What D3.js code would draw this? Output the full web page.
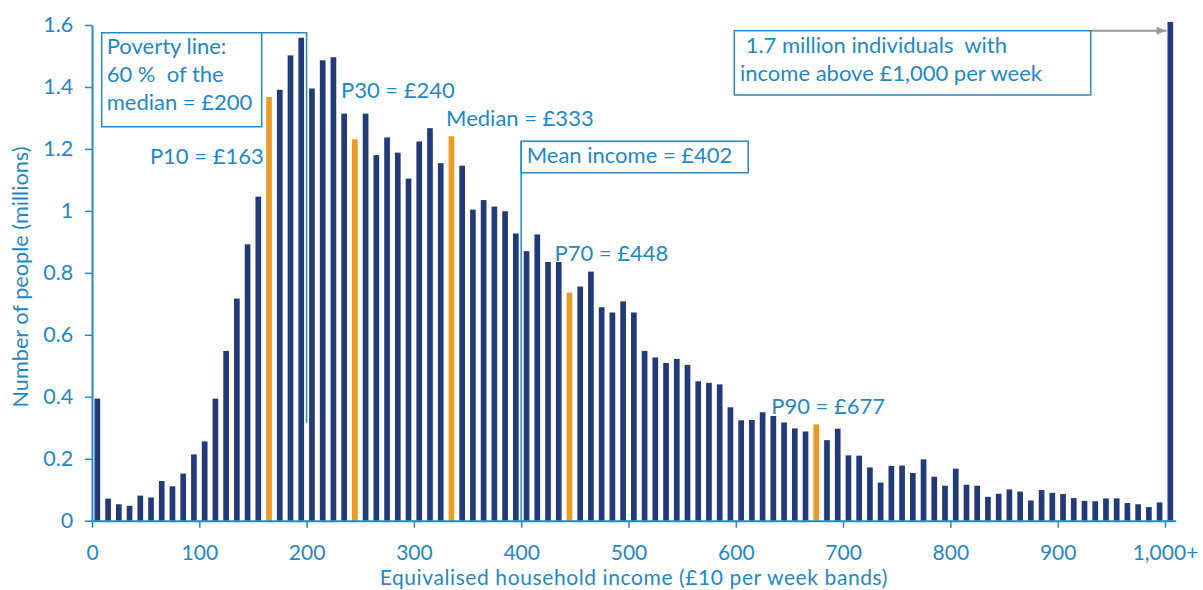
<!DOCTYPE html>
<html>
<head>
<meta charset="utf-8">
<script src="https://cdn.jsdelivr.net/npm/d3@7/dist/d3.min.js"></script>
<style>
  body { margin: 0; background: #fff; }
  svg text { font-family: Lato, "Open Sans", sans-serif; fill: #1f88c6; }
</style>
</head>
<body>
<div id="chart"></div>
<script>
// number of people (millions) in each £10 per week band, last one is 1,000+
const peopleMillions = [
  0.394, 0.071, 0.053, 0.048, 0.081, 0.075, 0.128, 0.111, 0.152, 0.214,
  0.256, 0.394, 0.548, 0.717, 0.892, 1.046, 1.368, 1.391, 1.502, 1.559,
  1.395, 1.486, 1.496, 1.314, 1.231, 1.314, 1.180, 1.237, 1.188, 1.104,
  1.224, 1.267, 1.154, 1.241, 1.146, 1.004, 1.035, 1.014, 0.999, 0.927,
  0.870, 0.924, 0.835, 0.835, 0.736, 0.756, 0.804, 0.689, 0.672, 0.708,
  0.672, 0.548, 0.527, 0.509, 0.522, 0.503, 0.450, 0.445, 0.440, 0.366,
  0.324, 0.325, 0.350, 0.338, 0.317, 0.298, 0.288, 0.311, 0.260, 0.297,
  0.211, 0.210, 0.172, 0.123, 0.177, 0.178, 0.154, 0.198, 0.142, 0.113,
  0.168, 0.116, 0.113, 0.077, 0.087, 0.101, 0.094, 0.065, 0.099, 0.090,
  0.086, 0.073, 0.064, 0.063, 0.072, 0.072, 0.057, 0.053, 0.044, 0.059,
  1.7
];
const bandSize = 10;
// bands that hold the percentiles (coloured orange)
const percentileBands = [160, 240, 330, 440, 670];
const percentileLabels = ["P10 = £163", "P30 = £240", "Median = £333", "P70 = £448", "P90 = £677"];
const xTicks = [0, 100, 200, 300, 400, 500, 600, 700, 800, 900, 1000];
const yTicks = [0, 0.2, 0.4, 0.6, 0.8, 1, 1.2, 1.4, 1.6];
const povertyLine = 200;
const meanIncome = 400;
const povertyText = ["Poverty line:", "60 %  of the", "median = £200"];
const meanText = "Mean income = £402";
const topText = [" 1.7 million individuals  with", "income above £1,000 per week"];

//svg dimensions
const width = 1203;
const height = 590;
const navy = "#233a78";
const orange = "#eb9a26";
const blue = "#2589c6";
const labelSize = "22px";

let svg = d3.select("#chart")
  .append("svg")
  .attr("width", width)
  .attr("height", height);

//scales
let x = d3.scaleLinear().domain([0, 1010]).range([92, 1175.7]);
let y = d3.scaleLinear().domain([0, 1.6]).range([520.7, 25]);
const band = x(bandSize) - x(0);
const barW = band * 0.53;
const yTop = 1.61; // tall 1,000+ bar is cut just above the axis top

//reference lines drawn behind the bars
svg.append("polyline")
  .attr("points", [[261.7, y(1.575)], [x(povertyLine), y(1.575)], [x(povertyLine), y(0.316)]].join(" "))
  .attr("fill", "none").attr("stroke", blue).attr("stroke-width", 1.5);
svg.append("line")
  .attr("x1", x(meanIncome)).attr("x2", x(meanIncome))
  .attr("y1", y(1.225)).attr("y2", y(0))
  .attr("stroke", blue).attr("stroke-width", 1.5);

//bars
svg.selectAll(".bar")
  .data(peopleMillions)
  .enter()
  .append("rect")
  .attr("class", "bar")
  .attr("x", (d, i) => x(i * bandSize + bandSize / 2) - barW / 2)
  .attr("width", barW)
  .attr("y", d => y(Math.min(d, yTop)))
  .attr("height", d => y(0) - y(Math.min(d, yTop)))
  .attr("fill", (d, i) => percentileBands.includes(i * bandSize) ? orange : navy);

//y axis
let yAxis = svg.append("g")
  .attr("transform", "translate(" + x(0) + ",0)")
  .call(d3.axisLeft(y).tickValues(yTicks).tickFormat(d3.format("~g")).tickSize(7).tickSizeOuter(0));
yAxis.select(".domain").attr("stroke", blue).attr("stroke-width", 2);
yAxis.selectAll(".tick line").attr("stroke", blue).attr("stroke-width", 1.5);
yAxis.selectAll(".tick text")
  .attr("x", -18.7).attr("fill", blue)
  .style("font-size", "21.5px").style("font-family", "Lato, sans-serif");

//x axis
let xAxis = svg.append("g")
  .attr("transform", "translate(0," + y(0) + ")")
  .call(d3.axisBottom(x).tickValues(xTicks)
    .tickFormat(d => d === 1000 ? "1,000+" : d3.format(",")(d)).tickSize(7).tickSizeOuter(0));
xAxis.select(".domain").attr("stroke", blue).attr("stroke-width", 2);
xAxis.selectAll(".tick text")
  .attr("y", 39).attr("dy", null).attr("fill", blue)
  .style("font-size", "21px").style("font-family", "Lato, sans-serif");
xAxis.selectAll(".tick line").attr("stroke", blue).attr("stroke-width", 1.5);

//axis titles
svg.append("text")
  .attr("transform", "translate(28,277) rotate(-90)")
  .attr("text-anchor", "middle")
  .style("font-size", "21.7px")
  .text("Number of people (millions)");
svg.append("text")
  .attr("x", (x(0) + x(1010)) / 2).attr("y", 585)
  .attr("text-anchor", "middle")
  .style("font-size", "21px")
  .style("letter-spacing", "0.6px")
  .text("Equivalised household income (£10 per week bands)");

//percentile labels, anchored in data coordinates
const labelAnchors = [[160, 1.15, "end"], [232, 1.363, "start"], [330, 1.273, "start"], [431, 0.839, "start"], [633, 0.344, "start"]];
svg.selectAll(".plabel")
  .data(percentileLabels)
  .enter()
  .append("text")
  .attr("class", "plabel")
  .attr("x", (d, i) => x(labelAnchors[i][0]))
  .attr("y", (d, i) => y(labelAnchors[i][1]))
  .attr("text-anchor", (d, i) => labelAnchors[i][2])
  .style("font-size", labelSize)
  .text(d => d);

//poverty line box
svg.append("rect")
  .attr("x", 101.7).attr("y", y(1.575)).attr("width", 160).attr("height", 94)
  .attr("fill", "#fff").attr("stroke", blue).attr("stroke-width", 1.5);
povertyText.forEach((t, i) => {
  svg.append("text")
    .attr("x", 106.7).attr("y", 54.3 + i * 27.8)
    .style("font-size", labelSize).style("white-space", "pre")
    .text(t);
});

//mean income box
svg.append("rect")
  .attr("x", x(meanIncome)).attr("y", y(1.225))
  .attr("width", 227).attr("height", y(1.123) - y(1.225))
  .attr("fill", "#fff").attr("stroke", blue).attr("stroke-width", 1.5);
svg.append("text")
  .attr("x", x(meanIncome) + 5.5).attr("y", 163.3)
  .style("font-size", labelSize)
  .text(meanText);

//box and arrow for the 1,000+ band
svg.append("defs").append("marker")
  .attr("id", "arrow")
  .attr("viewBox", "0 0 10 10")
  .attr("refX", 10).attr("refY", 5)
  .attr("markerWidth", 5).attr("markerHeight", 5)
  .attr("orient", "auto")
  .append("path").attr("d", "M0,1 L10,5 L0,9 Z").attr("fill", "#999");
svg.append("line")
  .attr("x1", 1090.7).attr("x2", x(1000) + 1.5)
  .attr("y1", 30.7).attr("y2", 30.7)
  .attr("stroke", "#999").attr("stroke-width", 2)
  .attr("marker-end", "url(#arrow)");
svg.append("rect")
  .attr("x", 734.3).attr("y", 30.7).attr("width", 356.4).attr("height", 64.3)
  .attr("fill", "#fff").attr("stroke", blue).attr("stroke-width", 1.5);
topText.forEach((t, i) => {
  svg.append("text")
    .attr("x", 740).attr("y", 53.3 + i * 27.8)
    .style("font-size", labelSize).style("white-space", "pre")
    .text(t);
});
</script>
</body>
</html>
